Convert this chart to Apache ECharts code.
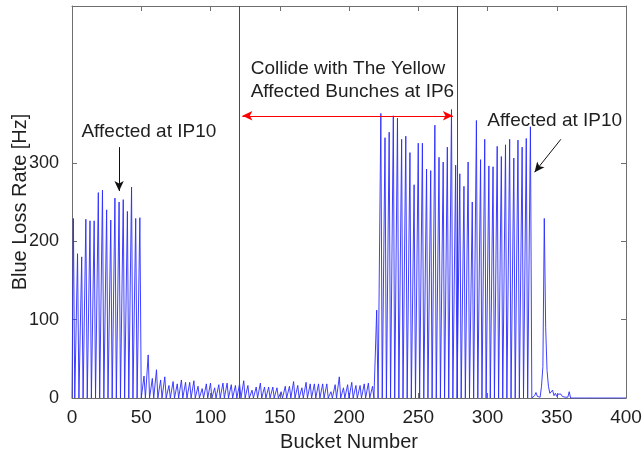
<!DOCTYPE html>
<html>
<head>
<meta charset="utf-8">
<script src="https://cdn.jsdelivr.net/npm/echarts@6/dist/echarts.min.js"></script>
<style>
  html, body { margin: 0; padding: 0; background: #fff; }
  #chart { width: 644px; height: 454px; }
</style>
</head>
<body>
<div id="chart"></div>
<script>
// Loss rate per filled bunch; bunches sit every third bucket starting at bucket 1
const bunchStart = 1;
const bunchSpacing = 3;
// buckets 1 .. 49
const lossIP10Early = [229, 184, 180, 228, 226, 226, 262, 265, 240, 227, 255, 250, 253, 238, 269, 229, 230];
// buckets 52 .. 217
const lossQuiet = [28, 55, 25, 36, 23, 27, 16, 21, 18, 23,
                   20, 20, 22, 15, 12, 18, 19, 13, 17, 19,
                   19, 17, 16, 18, 22, 16, 10, 14, 19, 14,
                   14, 14, 13, 8, 15, 15, 21, 16, 13, 20,
                   18, 18, 18, 18, 18, 8, 17, 27, 13, 17,
                   20, 16, 16, 18, 19, 15];
// buckets 220 .. 331
const lossCollide = [112, 363, 332, 339, 360, 357, 330, 334, 313, 272,
                     325, 325, 292, 290, 348, 307, 301, 320, 368, 297,
                     286, 270, 301, 250, 354, 304, 330, 296, 295, 321,
                     308, 323, 330, 306, 329, 320, 331, 346];
// abort gap, buckets 332 .. 360
const gapStart = 332;
const lossGap = [0, 1, 3, 7, 2, 0, 1, 15, 40, 229, 90, 35, 15, 6, 4, 10, 3, 6, 2, 5, 3, 5, 2, 4, 1, 2, 1, 8, 0];
const lastBucket = 400;

// vertical markers (bucket numbers) and axis ticks
const markerBuckets = [121, 278];
const yTicks = [0, 100, 200, 300];

const bunchLoss = lossIP10Early.concat(lossQuiet, lossCollide);
const perBucket = new Array(lastBucket + 1).fill(0);
bunchLoss.forEach((v, i) => { perBucket[bunchStart + i * bunchSpacing] = v; });
lossGap.forEach((v, i) => { perBucket[gapStart + i] = v; });
const seriesData = perBucket.map((v, b) => [b, v]);

const axisColor = '#6e6e6e';
const textColor = '#1f1f1f';
const font = 'Liberation Sans, Arial, sans-serif';

const chart = echarts.init(document.getElementById('chart'), null, { renderer: 'canvas' });

const option = {
  animation: false,
  backgroundColor: '#ffffff',
  textStyle: { fontFamily: font },
  grid: { left: 72, right: 18, top: 6, bottom: 56, show: false, containLabel: false, outerBoundsMode: 'none' },
  xAxis: [
    {
      type: 'value', min: 0, max: 400, interval: 50, position: 'bottom',
      name: 'Bucket Number', nameLocation: 'middle', nameGap: 34, nameMoveOverlap: false,
      nameTextStyle: { fontSize: 20, color: textColor, fontFamily: font },
      axisLine: { show: true, onZero: false, lineStyle: { color: axisColor, width: 1 } },
      axisTick: { show: true, inside: true, length: 5, lineStyle: { color: axisColor } },
      axisLabel: { fontSize: 19, color: textColor, margin: 10, fontFamily: font },
      splitLine: { show: false }
    },
    {
      type: 'value', min: 0, max: 400, interval: 50, position: 'top',
      axisLine: { show: true, onZero: false, lineStyle: { color: axisColor, width: 1 } },
      axisTick: { show: true, inside: true, length: 5, lineStyle: { color: axisColor } },
      axisLabel: { show: false },
      splitLine: { show: false }
    }
  ],
  yAxis: [
    {
      type: 'value', min: 0, max: 500, interval: 100, position: 'left',
      name: 'Blue Loss Rate [Hz]', nameLocation: 'middle', nameGap: 42, nameMoveOverlap: false,
      nameTextStyle: { fontSize: 20, color: textColor, fontFamily: font },
      axisLine: { show: true, onZero: false, lineStyle: { color: axisColor, width: 1 } },
      axisTick: { show: true, inside: true, length: 5, customValues: yTicks, lineStyle: { color: axisColor } },
      axisLabel: { fontSize: 18, color: textColor, margin: 13, customValues: yTicks, fontFamily: font },
      splitLine: { show: false }
    },
    {
      type: 'value', min: 0, max: 500, interval: 100, position: 'right',
      axisLine: { show: true, onZero: false, lineStyle: { color: axisColor, width: 1 } },
      axisTick: { show: true, inside: true, length: 5, customValues: yTicks, lineStyle: { color: axisColor } },
      axisLabel: { show: false },
      splitLine: { show: false }
    }
  ],
  series: [
    {
      type: 'line',
      xAxisIndex: 0,
      yAxisIndex: 0,
      data: seriesData,
      showSymbol: false,
      symbol: 'none',
      lineStyle: { color: '#2a2aff', width: 0.9 },
      silent: true,
      z: 3,
      markLine: {
        silent: true,
        symbol: 'none',
        label: { show: false },
        z: 4,
        data: [
          { xAxis: markerBuckets[0], lineStyle: { color: '#4a4a4a', width: 1, type: 'solid' } },
          { xAxis: markerBuckets[1], lineStyle: { color: '#4a4a4a', width: 1, type: 'solid' } },
          [
            { coord: [123, 360], symbol: 'arrow', symbolSize: [7, 10], lineStyle: { color: '#ff0000', width: 1, type: 'solid' } },
            { coord: [275, 360], symbol: 'arrow', symbolSize: [7, 10] }
          ],
          [
            { coord: [34, 320], symbol: 'none', lineStyle: { color: '#111111', width: 1, type: 'solid' } },
            { coord: [34, 264], symbol: 'arrow', symbolSize: [7, 10] }
          ],
          [
            { coord: [353, 330], symbol: 'none', lineStyle: { color: '#111111', width: 1, type: 'solid' } },
            { coord: [334, 288], symbol: 'arrow', symbolSize: [7, 10] }
          ]
        ]
      },
      markPoint: {
        silent: true,
        symbol: 'circle',
        symbolSize: 0,
        itemStyle: { color: 'transparent' },
        label: { show: true, color: textColor, fontSize: 19, fontFamily: font, formatter: '{b}' },
        data: [
          { name: 'Affected at IP10', coord: [55.5, 340],
            label: { position: 'inside', align: 'center', verticalAlign: 'middle' } },
          { name: 'Affected at IP10', coord: [348.5, 354],
            label: { position: 'inside', align: 'center', verticalAlign: 'middle' } },
          { name: 'Collide with The Yellow\nAffected Bunches at IP6', coord: [129, 405],
            label: { position: 'inside', align: 'left', verticalAlign: 'middle', lineHeight: 23 } }
        ]
      }
    }
  ]
};

chart.setOption(option);
</script>
</body>
</html>
